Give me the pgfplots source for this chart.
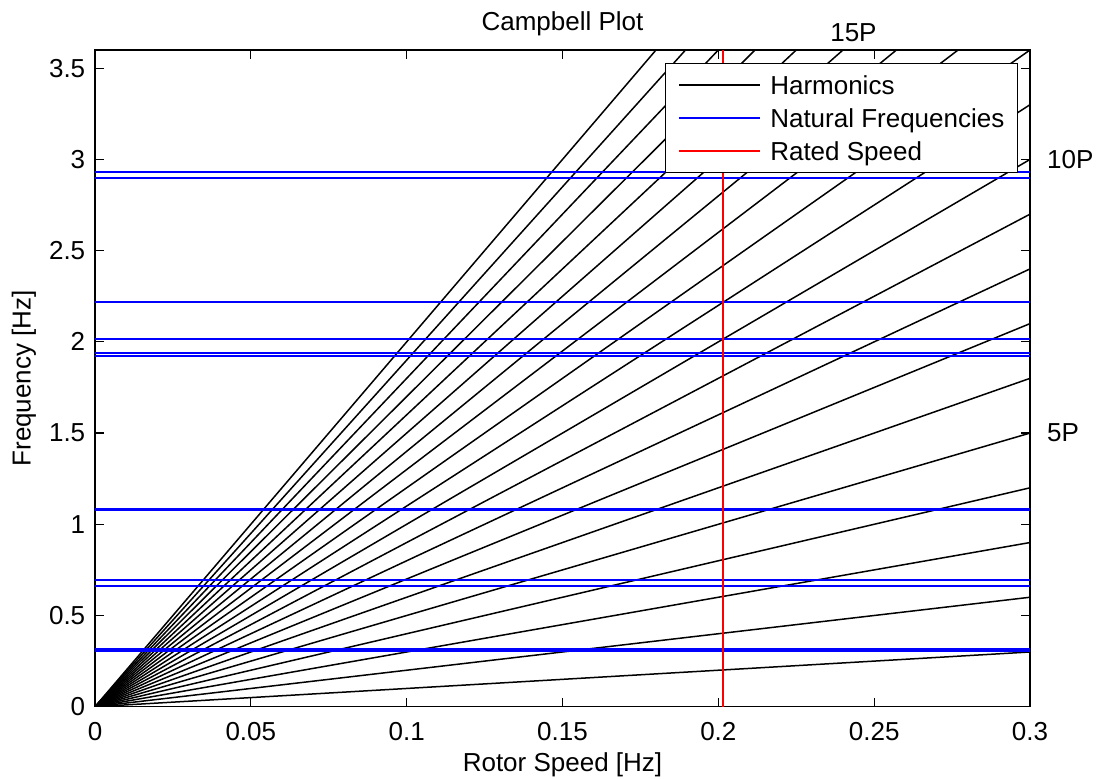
\documentclass[border=0pt]{standalone}
\usepackage{pgfplots}
\pgfplotsset{compat=1.18}
\usepackage{fontspec}
\setmainfont{Liberation Sans}
\pgfplotsset{every axis title shift=0pt}
\begin{document}
\begin{tikzpicture}
\begin{axis}[
  scale only axis,
  width=467.5pt, height=328.35pt,
  xmin=0, xmax=0.3, ymin=0, ymax=3.6,
  font=\fontsize{13}{15.6}\selectfont,
  /pgf/number format/assume math mode=true,
  xtick={0,0.05,0.1,0.15,0.2,0.25,0.3},
  xticklabels={0,0.05,0.1,0.15,0.2,0.25,0.3},
  ytick={0,0.5,1,1.5,2,2.5,3,3.5},
  yticklabels={0,0.5,1,1.5,2,2.5,3,3.5},
  tick align=inside, xtick pos=both, ytick pos=both,
  major tick length=4.5pt,
  tick style={black, line width=0.6pt},
  axis line style={black, line width=0.7pt},
  xticklabel style={anchor=base, yshift=-16.65pt},
  yticklabel style={anchor=east, inner sep=0pt, xshift=-4.7pt},
  xlabel={Rotor Speed [Hz]},
  ylabel={Frequency [Hz]},
  title={Campbell Plot},
  xlabel style={at={(axis description cs:0.5,0)}, anchor=base, yshift=-32.5pt, inner sep=0pt},
  ylabel style={at={(axis description cs:-0.0688,0.5)}, anchor=base, inner sep=0pt},
  title style={at={(axis description cs:0.5,1)}, anchor=base, yshift=10pt, inner sep=0pt},
  legend cell align=left,
  legend image code/.code={\draw[#1] (0pt,0pt) -- (40.5pt,0pt);},
  legend style={at={(axis description cs:1,1)}, anchor=north east,
    xshift=-6pt, yshift=-6.5pt, draw=black, line width=0.6pt,
    font=\fontsize{13}{15.6}\selectfont,
    inner xsep=6.5pt, inner ysep=6pt, row sep=7pt, column sep=4.5pt,
    nodes={inner sep=0pt, text height=9.3pt, text depth=0.2pt}},
]
% Harmonics 1P ... 20P
\addplot[black, line width=0.75pt] coordinates {(0,0) (0.3,0.3)};
\addlegendentry{Harmonics}
\addplot[black, line width=0.75pt, forget plot] coordinates {(0,0) (0.3,0.6)};
\addplot[black, line width=0.75pt, forget plot] coordinates {(0,0) (0.3,0.9)};
\addplot[black, line width=0.75pt, forget plot] coordinates {(0,0) (0.3,1.2)};
\addplot[black, line width=0.75pt, forget plot] coordinates {(0,0) (0.3,1.5)};
\addplot[black, line width=0.75pt, forget plot] coordinates {(0,0) (0.3,1.8)};
\addplot[black, line width=0.75pt, forget plot] coordinates {(0,0) (0.3,2.1)};
\addplot[black, line width=0.75pt, forget plot] coordinates {(0,0) (0.3,2.4)};
\addplot[black, line width=0.75pt, forget plot] coordinates {(0,0) (0.3,2.7)};
\addplot[black, line width=0.75pt, forget plot] coordinates {(0,0) (0.3,3.0)};
\addplot[black, line width=0.75pt, forget plot] coordinates {(0,0) (0.3,3.3)};
\addplot[black, line width=0.75pt, forget plot] coordinates {(0,0) (0.3,3.6)};
\addplot[black, line width=0.75pt, forget plot] coordinates {(0,0) (0.3,3.9)};
\addplot[black, line width=0.75pt, forget plot] coordinates {(0,0) (0.3,4.2)};
\addplot[black, line width=0.75pt, forget plot] coordinates {(0,0) (0.3,4.5)};
\addplot[black, line width=0.75pt, forget plot] coordinates {(0,0) (0.3,4.8)};
\addplot[black, line width=0.75pt, forget plot] coordinates {(0,0) (0.3,5.1)};
\addplot[black, line width=0.75pt, forget plot] coordinates {(0,0) (0.3,5.4)};
\addplot[black, line width=0.75pt, forget plot] coordinates {(0,0) (0.3,5.7)};
\addplot[black, line width=0.75pt, forget plot] coordinates {(0,0) (0.3,6.0)};
% Natural frequencies
\addplot[blue, line width=1pt] coordinates {(0,0.308) (0.3,0.308)};
\addlegendentry{Natural Frequencies}
\addplot[blue, line width=1pt, forget plot] coordinates {(0,0.316) (0.3,0.316)};
\addplot[blue, line width=1pt, forget plot] coordinates {(0,0.664) (0.3,0.664)};
\addplot[blue, line width=1pt, forget plot] coordinates {(0,0.695) (0.3,0.695)};
\addplot[blue, line width=1pt, forget plot] coordinates {(0,1.079) (0.3,1.079)};
\addplot[blue, line width=1pt, forget plot] coordinates {(0,1.086) (0.3,1.086)};
\addplot[blue, line width=1pt, forget plot] coordinates {(0,1.923) (0.3,1.923)};
\addplot[blue, line width=1pt, forget plot] coordinates {(0,1.937) (0.3,1.937)};
\addplot[blue, line width=1pt, forget plot] coordinates {(0,2.016) (0.3,2.016)};
\addplot[blue, line width=1pt, forget plot] coordinates {(0,2.220) (0.3,2.220)};
\addplot[blue, line width=1pt, forget plot] coordinates {(0,2.900) (0.3,2.900)};
\addplot[blue, line width=1pt, forget plot] coordinates {(0,2.933) (0.3,2.933)};
% Rated speed
\addplot[red, line width=1pt] coordinates {(0.2016,0) (0.2016,3.6)};
\addlegendentry{Rated Speed}
\coordinate (l5) at (axis cs:0.3054,1.5);
\coordinate (l10) at (axis cs:0.3054,3.0);
\coordinate (l15) at (axis cs:0.2358,3.695);
\end{axis}
\node[anchor=west, inner sep=0pt, font=\fontsize{13}{15.6}\selectfont] at (l5) {5P};
\node[anchor=west, inner sep=0pt, font=\fontsize{13}{15.6}\selectfont] at (l10) {10P};
\node[anchor=west, inner sep=0pt, font=\fontsize{13}{15.6}\selectfont] at (l15) {15P};
\path (current axis.south west) ++(-47.5pt,-35.65pt) coordinate (bbA);
\path (current axis.north east) ++(33.5pt,25pt) coordinate (bbB);
\pgfresetboundingbox
\useasboundingbox (bbA) rectangle (bbB);
\end{tikzpicture}
\end{document}
